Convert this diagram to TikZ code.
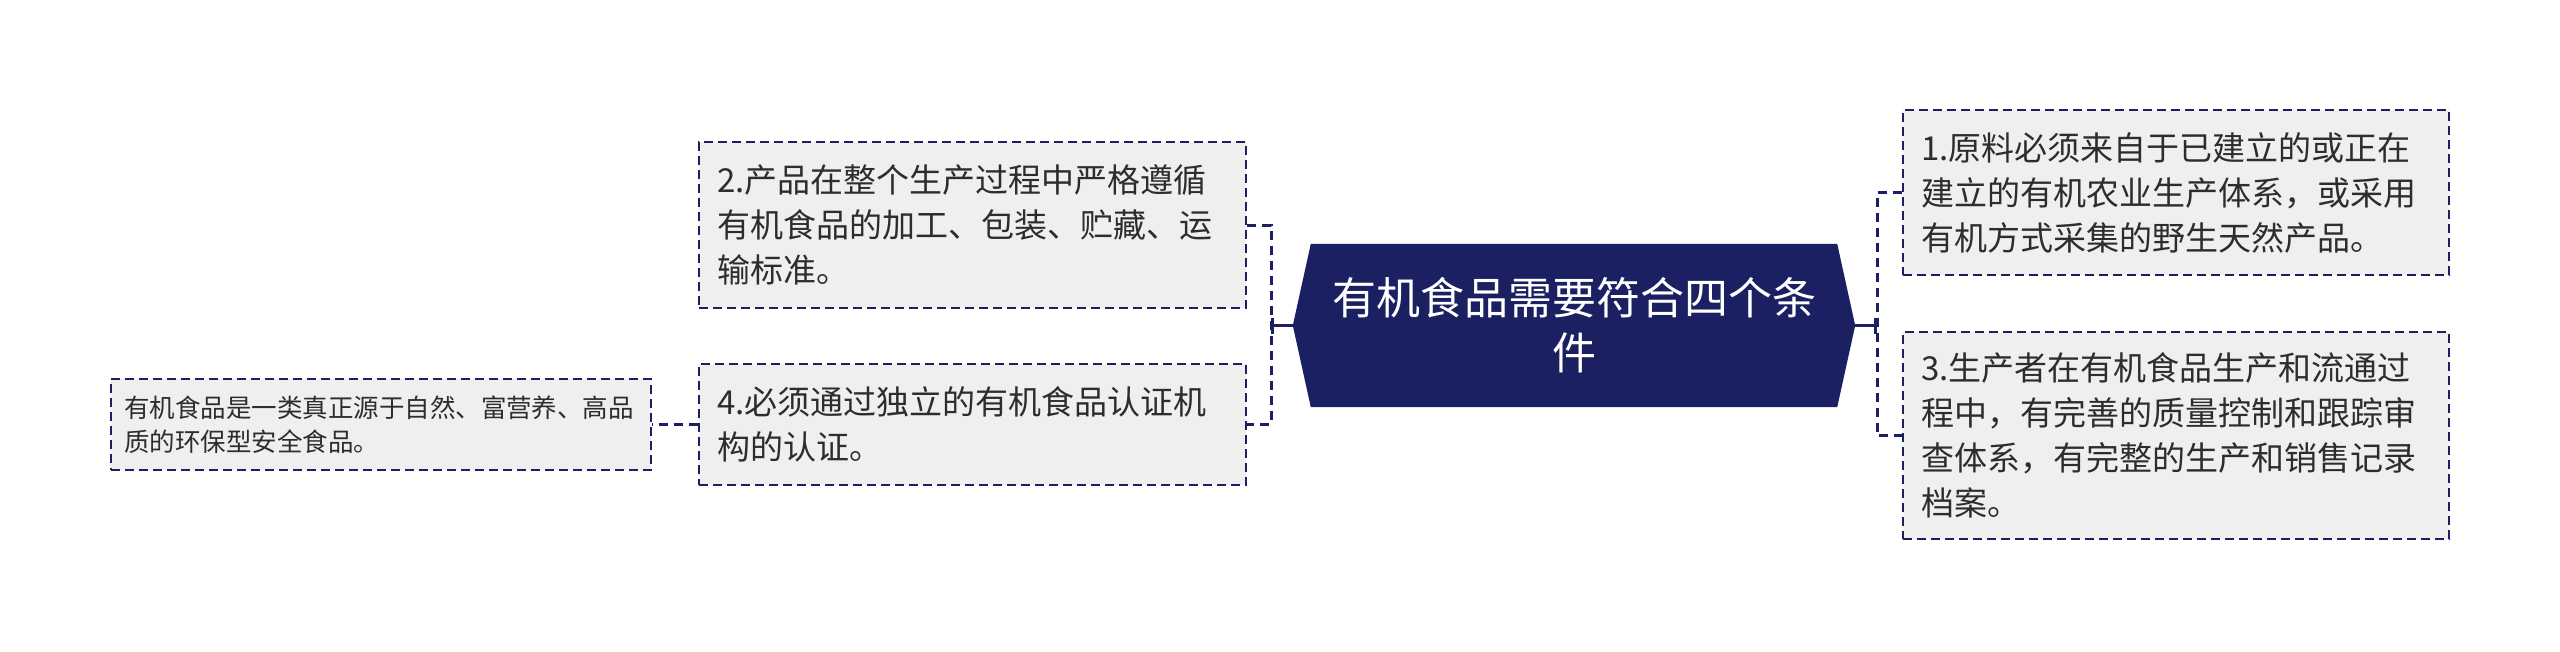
\documentclass[tikz,border=0pt]{standalone}
\usepackage{fontspec}
\setmainfont{Noto Sans CJK SC}
\usetikzlibrary{arrows.meta,backgrounds,calc}
\definecolor{navy}{RGB}{27,32,98}
\definecolor{boxfill}{RGB}{239,239,239}
\definecolor{txt}{RGB}{45,45,45}
\tikzset{
  leaf/.style={draw=navy, line width=2.2pt, dash pattern=on 9pt off 5pt, fill=boxfill,
    text=txt, inner xsep=18pt, inner ysep=0pt, align=left, anchor=center,
    font=\fontsize{33}{45}\selectfont},
  smallleaf/.style={leaf, inner xsep=13pt, font=\fontsize{25.5}{34}\selectfont},
  conn/.style={draw=navy, line width=3pt, dash pattern=on 9pt off 6pt},
  trunk/.style={draw=navy, line width=3pt, -{Bar[width=16pt,line width=3pt]}},
  centre/.style={text=white, align=center, inner sep=0pt,
    font=\fontsize{44}{55}\selectfont}
}
\begin{document}
\begin{tikzpicture}[x=1pt,y=-1pt]
\useasboundingbox (0,0) rectangle (2560,651);
% central node
\node[centre, minimum width=562pt, minimum height=163pt, text width=500pt] (c) at (1574,325.5)
  {有机食品需要符合四个条\\件};
\begin{scope}[on background layer]
\fill[navy] ($(c.north west)+(18,0)$) -- (c.west) -- ($(c.south west)+(18,0)$)
  -- ($(c.south east)+(-18,0)$) -- (c.east) -- ($(c.north east)+(-18,0)$) -- cycle;
\end{scope}
% left branch
\node[leaf, text width=511pt, minimum height=166pt] (b2) at (972.5,225)
  {2.产品在整个生产过程中严格遵循\\有机食品的加工、包装、贮藏、运\\输标准。};
\node[leaf, text width=511pt, minimum height=121pt] (b4) at (972.5,424.5)
  {4.必须通过独立的有机食品认证机\\构的认证。};
\node[smallleaf, text width=514pt, minimum height=91pt] (s) at (381,424.5)
  {有机食品是一类真正源于自然、富营养、高品\\质的环保型安全食品。};
% right branch
\node[leaf, text width=510pt, minimum height=165pt] (b1) at (2176,192.5)
  {1.原料必须来自于已建立的或正在\\建立的有机农业生产体系，或采用\\有机方式采集的野生天然产品。};
\node[leaf, text width=510pt, minimum height=207pt] (b3) at (2176,435.5)
  {3.生产者在有机食品生产和流通过\\程中，有完善的质量控制和跟踪审\\查体系，有完整的生产和销售记录\\档案。};
% junctions
\coordinate (lj) at (1271,325.5);
\coordinate (rj) at (1877,325.5);
\draw[conn] (b2.east) -| (lj) |- (b4.east);
\draw[conn] (b1.west) -| (rj) |- (b3.west);
\draw[trunk] (c.west) -- (lj);
\draw[trunk] (c.east) -- (rj);
\draw[conn] (b4.west) -- (s.east);
\end{tikzpicture}
\end{document}
